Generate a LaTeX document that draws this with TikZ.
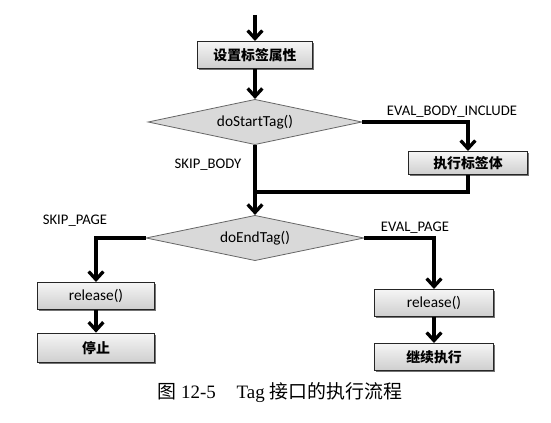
\documentclass[tikz,border=0pt]{standalone}
\usepackage{fontspec}
\setmainfont{Carlito}
\newfontfamily\cjk{Noto Sans CJK SC}
\newfontfamily\capfont{Liberation Serif}
\usetikzlibrary{shapes.geometric, arrows.meta, calc, shadows}

\tikzset{
  proc/.style={shape=rectangle,draw=black!85,line width=1pt,top color=gray!8,bottom color=gray!38,
    minimum width=88pt,minimum height=20pt,inner sep=0pt,font=\cjk\bfseries\fontsize{10.4}{12}\selectfont,
    drop shadow={shadow xshift=1pt,shadow yshift=-1pt,fill=black!55,opacity=1}},
  cond/.style={shape=diamond,shape aspect=4.75,draw=black!60,line width=0.6pt,fill=gray!30,inner sep=0pt,
    font=\fontsize{11.5}{13}\selectfont},
  flow/.style={-{Straight Barb[length=6pt,width=11pt]},line width=2.5pt},
  tag/.style={font=\fontsize{11}{13}\selectfont}
}

\begin{document}
\begin{tikzpicture}[x=0.75pt,y=-0.75pt]
\useasboundingbox (0,0) rectangle (551,423);

\coordinate (in) at (255,15);
\node (set) [proc,minimum width=86pt] at (255,55) {设置标签属性};
\draw[flow] (in) -- (set.north);

\node (st) [cond,minimum width=160.5pt,minimum height=34pt] at (255,122) {doStartTag()};
\draw[flow] (set.south) -- (st.north);

\node (body) [proc,minimum width=89pt,minimum height=17pt] at (468,163) {执行标签体};
\draw[flow] (st.east) -| (body.north);
\node (evb) [tag] at (452,112) {EVAL\_BODY\_INCLUDE};
\node (skb) [tag] at (208,165) {SKIP\_BODY};

\coordinate (join) at (255,192);
\draw[line width=2.5pt] (body.south) |- (join);

\node (et) [cond,minimum width=163.5pt,minimum height=34pt] at (255,238) {doEndTag()};
\draw[flow] (st.south) -- (et.north);
\node (skp) [tag] at (75,221) {SKIP\_PAGE};
\node (evp) [tag] at (415,228) {EVAL\_PAGE};

% left branch
\node (lrel) [proc,font=\fontsize{11.5}{13}\selectfont] at (96,296) {release()};
\node (lstop) [proc,minimum height=22pt] at (96,348) {停止};
\draw[flow] (et.west) -| (lrel.north);
\draw[flow] (lrel.south) -- (lstop.north);

% right branch
\node (rrel) [proc,minimum width=89pt,font=\fontsize{11.5}{13}\selectfont] at (434,303) {release()};
\node (rgo) [proc,minimum width=89pt] at (434,357) {继续执行};
\draw[flow] (et.east) -| (rrel.north);
\draw[flow] (rrel.south) -- (rgo.north);

\node (cap) [font=\fontsize{14.2}{17}\selectfont] at (280,393) {\cjk 图 \capfont 12-5\hspace{1.1em}Tag \cjk 接口的执行流程};

\end{tikzpicture}
\end{document}
